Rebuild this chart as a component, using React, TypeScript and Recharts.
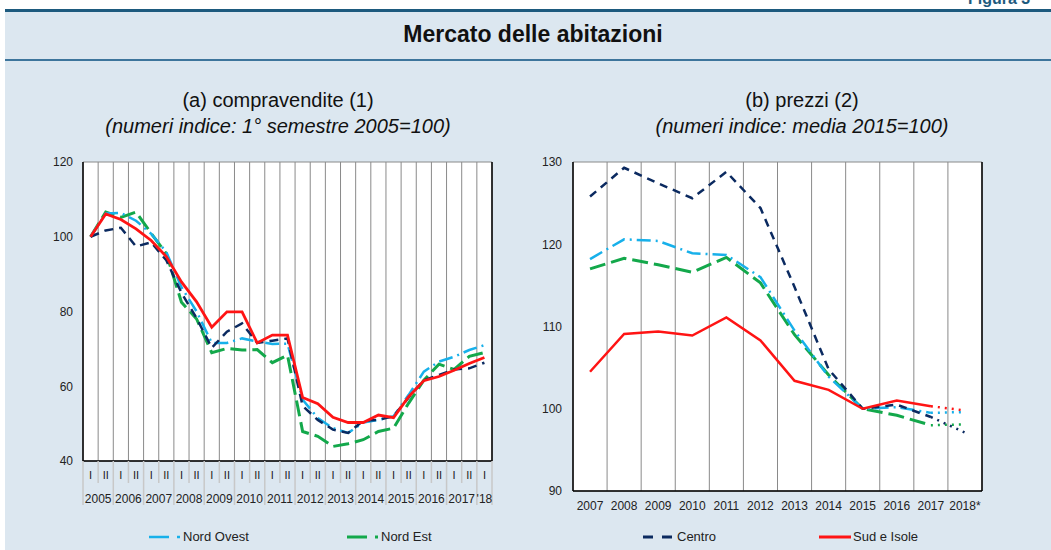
import React from "react";
import { LineChart, Line, XAxis, YAxis, CartesianGrid } from "recharts";

// (a) compravendite, semestrali
const semestri = [
  "2005 I", "2005 II", "2006 I", "2006 II", "2007 I", "2007 II", "2008 I", "2008 II",
  "2009 I", "2009 II", "2010 I", "2010 II", "2011 I", "2011 II", "2012 I", "2012 II",
  "2013 I", "2013 II", "2014 I", "2014 II", "2015 I", "2015 II", "2016 I", "2016 II",
  "2017 I", "2017 II", "2018 I",
];
const etichetteAnni = [
  "2005", "2006", "2007", "2008", "2009", "2010", "2011",
  "2012", "2013", "2014", "2015", "2016", "2017", "'18",
];
const compNordOvest = [
  100, 106.2, 106.4, 104.3, 100.8, 95.9, 86.5, 80, 71.6, 71.6, 72.8, 72.0, 71.3, 71.4,
  56.4, 51.5, 48.8, 47.5, 50.3, 51.0, 52.0, 57.7, 63.9, 66.6, 67.9, 69.7, 71.0,
];
const compNordEst = [
  100, 106.6, 105.2, 106.6, 100.9, 95.5, 82.5, 78.0, 69.0, 70.1, 69.7, 69.8, 66.3, 68.3,
  47.9, 46.6, 43.9, 44.6, 45.7, 47.9, 48.8, 55.5, 61.6, 65.9, 64.5, 68.0, 69.0,
];
const compCentro = [
  100, 101.7, 102.4, 97.4, 98.5, 93.7, 85, 78.2, 70.3, 74.6, 76.8, 71.6, 72.2, 72.8,
  54.7, 51.0, 48.4, 47.5, 50.8, 51.0, 52.0, 57.0, 61.6, 63.0, 64.5, 64.8, 66.3,
];
const compSud = [
  100, 106.1, 104.6, 102.1, 99.0, 94.7, 87.9, 82.6, 75.8, 79.9, 79.9, 71.6, 73.7, 73.7,
  57.0, 55.3, 51.7, 50.3, 50.3, 52.3, 51.6, 57.2, 61.5, 62.6, 64.3, 66.1, 67.7,
];

// (b) prezzi, annuali (2018* stima, tratto punteggiato)
const anni = ["2007", "2008", "2009", "2010", "2011", "2012", "2013", "2014", "2015", "2016", "2017", "2018*"];
const prezziNordOvest = [118.2, 120.6, 120.4, 118.9, 118.7, 116.0, 109.5, 103.9, 100, 100.2, 99.5, null];
const prezziNordOvestStima = [null, null, null, null, null, null, null, null, null, null, 99.5, 99.6];
const prezziNordEst = [117.0, 118.3, 117.5, 116.6, 118.4, 115.3, 109.0, 104.1, 100, 99.2, 98.0, null];
const prezziNordEstStima = [null, null, null, null, null, null, null, null, null, null, 98.0, 98.1];
const prezziCentro = [125.8, 129.3, 127.4, 125.6, 128.8, 124.4, 114.8, 104.8, 100, 100.5, 99.0, null];
const prezziCentroStima = [null, null, null, null, null, null, null, null, null, null, 99.0, 97.1];
const prezziSud = [104.5, 109.1, 109.4, 108.9, 111.1, 108.3, 103.4, 102.3, 100, 101.0, 100.3, null];
const prezziSudStima = [null, null, null, null, null, null, null, null, null, null, 100.3, 99.8];

const ticksComp = [40, 60, 80, 100, 120];
const ticksPrezzi = [90, 100, 110, 120, 130];

const C_NO = "#17b0ea";
const C_NE = "#13a84b";
const C_CE = "#0b2a60";
const C_SU = "#ff1414";
const BG = "#dce7f0";
const FONT = "'Liberation Sans', Arial, sans-serif";

const datiComp = semestri.map((s, i) => ({
  s,
  no: compNordOvest[i],
  ne: compNordEst[i],
  ce: compCentro[i],
  su: compSud[i],
}));

const datiPrezzi = anni.map((a, i) => ({
  a,
  no: prezziNordOvest[i],
  noS: prezziNordOvestStima[i],
  ne: prezziNordEst[i],
  neS: prezziNordEstStima[i],
  ce: prezziCentro[i],
  ceS: prezziCentroStima[i],
  su: prezziSud[i],
  suS: prezziSudStima[i],
}));

const PLOT_W = 409;
const BAND_L = PLOT_W / semestri.length;

const bandLines = (n: number) => ({ offset }: any) =>
  Array.from({ length: n + 1 }, (_, i) => offset.left + (i * offset.width) / n);

const SemTick = (props: any) => {
  const { x, y, payload } = props;
  const idx = semestri.indexOf(payload.value);
  const half = payload.value.split(" ")[1];
  const first = half === "I";
  const last = idx === semestri.length - 1;
  return (
    <g>
      <line x1={x - BAND_L / 2} x2={x - BAND_L / 2} y1={y} y2={y + (first ? 44 : 22)} stroke="#c8c8c8" strokeWidth={1.5} />
      {last && (
        <line x1={x + BAND_L / 2} x2={x + BAND_L / 2} y1={y} y2={y + 44} stroke="#c8c8c8" strokeWidth={1.5} />
      )}
      <text x={x} y={y + 18} textAnchor="middle" fontSize={11} fill="#222" stroke="none" fontFamily={FONT}>
        {half}
      </text>
      {first && (
        <text x={last ? x : x + BAND_L / 2} y={y + 42} textAnchor="middle" fontSize={12} fill="#222" stroke="none" fontFamily={FONT}>
          {etichetteAnni[Math.floor(idx / 2)]}
        </text>
      )}
    </g>
  );
};

const axisTick = { fontSize: 12, fill: "#222", fontFamily: FONT };
const axisLine = { stroke: "#000", strokeWidth: 1.5 };

const LegendItem = ({ color, dash, width, label, dot }: any) => (
  <div style={{ display: "flex", alignItems: "center", gap: 0 }}>
    <svg width={34} height={10}>
      <line x1={0} x2={dot ? 20 : 32} y1={5} y2={5} stroke={color} strokeWidth={width} strokeDasharray={dash} />
      {dot && <line x1={28} x2={31} y1={5} y2={5} stroke={color} strokeWidth={width} />}
    </svg>
    <span style={{ fontSize: 13, color: "#222", fontFamily: FONT }}>{label}</span>
  </div>
);

export default function App() {
  return (
    <div style={{ position: "absolute", left: 0, top: 0, width: 1051, height: 550, overflow: "hidden", background: "#fff", fontFamily: FONT }}>
      <div style={{ position: "absolute", left: 968, top: -10, fontSize: 16, fontWeight: "bold", color: "#1d5a7e" }}>Figura 3</div>
      <div style={{ position: "absolute", left: 5, top: 9, width: 1046, height: 541, background: BG }} />
      <div style={{ position: "absolute", left: 5, top: 9, width: 1046, height: 3, background: "#1d5a7e" }} />
      <div style={{ position: "absolute", left: 0, width: 1066, top: 21, textAlign: "center", fontSize: 23, fontWeight: "bold", color: "#111" }}>
        Mercato delle abitazioni
      </div>
      <div style={{ position: "absolute", left: 5, top: 59, width: 1046, height: 2, background: "#3d759c" }} />

      <div style={{ position: "absolute", left: 0, width: 556, top: 87, textAlign: "center", fontSize: 20, color: "#111", lineHeight: "26px" }}>
        (a) compravendite (1)
        <br />
        <i>(numeri indice: 1° semestre 2005=100)</i>
      </div>
      <div style={{ position: "absolute", left: 552, width: 500, top: 87, textAlign: "center", fontSize: 20, color: "#111", lineHeight: "26px" }}>
        (b) prezzi (2)
        <br />
        <i>(numeri indice: media 2015=100)</i>
      </div>

      <div style={{ position: "absolute", left: 0, top: 150 }}>
        <LineChart width={540} height={370} data={datiComp} margin={{ top: 12, right: 0, bottom: 0, left: 0 }}>
          <CartesianGrid fill="#fff" stroke="#8a8a8a" strokeWidth={1} verticalCoordinatesGenerator={bandLines(semestri.length)} />
          <XAxis dataKey="s" scale="band" interval={0} tickLine={false} tickSize={0} tickMargin={0} axisLine={axisLine} height={59} tick={(p: any) => <SemTick {...p} />} />
          <YAxis yAxisId="l" orientation="left" width={83} domain={[40, 120]} ticks={ticksComp} tickLine={false} tickSize={0} tickMargin={10} axisLine={axisLine} tick={axisTick} />
          <YAxis yAxisId="r" orientation="right" width={48} domain={[40, 120]} ticks={ticksComp} tickLine={false} tickSize={0} tickMargin={11} axisLine={axisLine} tick={axisTick} />
          <Line yAxisId="l" dataKey="ne" stroke={C_NE} strokeWidth={3} strokeDasharray="16 6" dot={false} activeDot={false} isAnimationActive={false} />
          <Line yAxisId="l" dataKey="no" stroke={C_NO} strokeWidth={2.5} strokeDasharray="14 5 2 5" dot={false} activeDot={false} isAnimationActive={false} />
          <Line yAxisId="l" dataKey="ce" stroke={C_CE} strokeWidth={2.5} strokeDasharray="9 6" dot={false} activeDot={false} isAnimationActive={false} />
          <Line yAxisId="l" dataKey="su" stroke={C_SU} strokeWidth={2.8} dot={false} activeDot={false} isAnimationActive={false} />
        </LineChart>
      </div>

      <div style={{ position: "absolute", left: 520, top: 150 }}>
        <LineChart width={531} height={380} data={datiPrezzi} margin={{ top: 12, right: 0, bottom: 0, left: 0 }}>
          <CartesianGrid fill="#fff" stroke="#8a8a8a" strokeWidth={1} verticalCoordinatesGenerator={bandLines(anni.length)} />
          <XAxis dataKey="a" scale="band" interval={0} tickLine={false} tickSize={0} tickMargin={10} axisLine={axisLine} height={39} tick={axisTick} />
          <YAxis yAxisId="l" orientation="left" width={53} domain={[90, 130]} ticks={ticksPrezzi} tickLine={false} tickSize={0} tickMargin={11} axisLine={axisLine} tick={axisTick} />
          <YAxis yAxisId="r" orientation="right" width={69} domain={[90, 130]} ticks={ticksPrezzi} tickLine={false} tickSize={0} tickMargin={10} axisLine={axisLine} tick={axisTick} />
          <Line yAxisId="l" dataKey="ne" stroke={C_NE} strokeWidth={3} strokeDasharray="16 6" dot={false} activeDot={false} isAnimationActive={false} />
          <Line yAxisId="l" dataKey="neS" stroke={C_NE} strokeWidth={2.5} strokeDasharray="2 5" dot={false} activeDot={false} isAnimationActive={false} />
          <Line yAxisId="l" dataKey="no" stroke={C_NO} strokeWidth={2.5} strokeDasharray="14 5 2 5" dot={false} activeDot={false} isAnimationActive={false} />
          <Line yAxisId="l" dataKey="noS" stroke={C_NO} strokeWidth={2.5} strokeDasharray="2 5" dot={false} activeDot={false} isAnimationActive={false} />
          <Line yAxisId="l" dataKey="ce" stroke={C_CE} strokeWidth={2.5} strokeDasharray="8 6" dot={false} activeDot={false} isAnimationActive={false} />
          <Line yAxisId="l" dataKey="ceS" stroke={C_CE} strokeWidth={2.5} strokeDasharray="2 5" dot={false} activeDot={false} isAnimationActive={false} />
          <Line yAxisId="l" dataKey="su" stroke={C_SU} strokeWidth={2.5} dot={false} activeDot={false} isAnimationActive={false} />
          <Line yAxisId="l" dataKey="suS" stroke={C_SU} strokeWidth={2.5} strokeDasharray="2 5" dot={false} activeDot={false} isAnimationActive={false} />
        </LineChart>
      </div>

      <div style={{ position: "absolute", left: 149, top: 529 }}>
        <LegendItem color={C_NO} width={2.5} dot label="Nord Ovest" />
      </div>
      <div style={{ position: "absolute", left: 347, top: 529 }}>
        <LegendItem color={C_NE} width={3} dot label="Nord Est" />
      </div>
      <div style={{ position: "absolute", left: 643, top: 529 }}>
        <LegendItem color={C_CE} width={3} dash="10 9" label="Centro" />
      </div>
      <div style={{ position: "absolute", left: 819, top: 529 }}>
        <LegendItem color={C_SU} width={3} label="Sud e Isole" />
      </div>
    </div>
  );
}
